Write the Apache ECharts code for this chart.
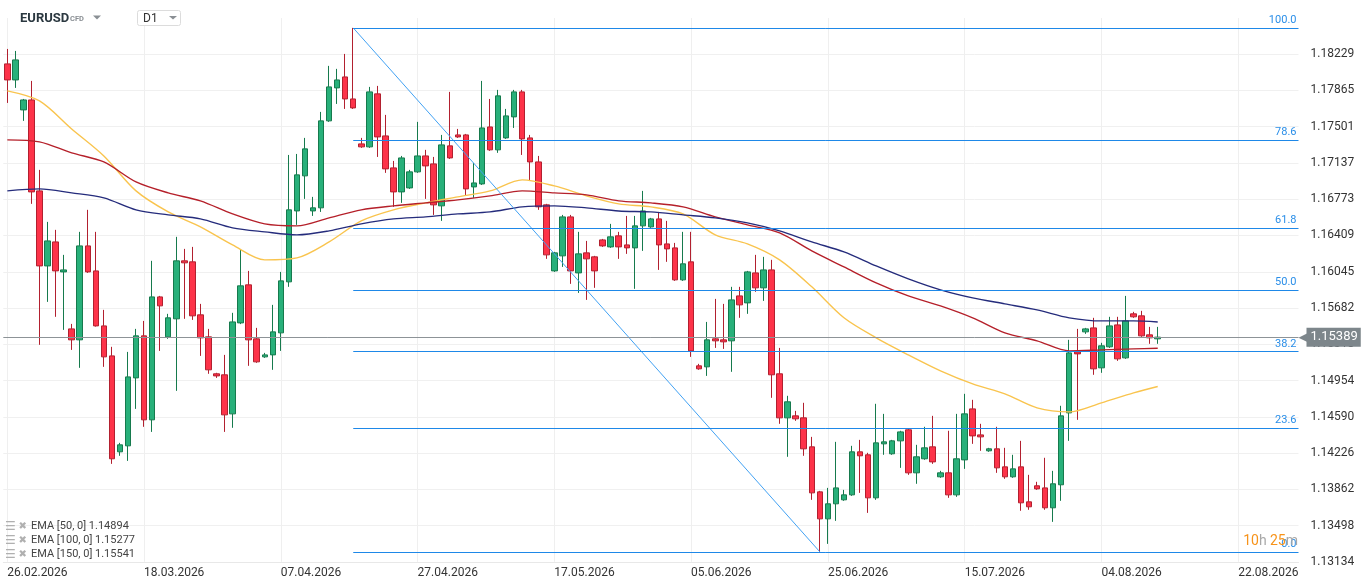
<!DOCTYPE html>
<html><head><meta charset="utf-8">
<script src="https://cdn.jsdelivr.net/npm/echarts@6/dist/echarts.min.js"></script>
<style>html,body{margin:0;padding:0;background:#fff;}#c{width:1368px;height:587px;}</style>
</head><body><div id="c"></div>
<script>
// ---- data ----
const openP = [
1.18132,1.17971,1.17670,1.17770,1.16857,1.16104,1.16345,1.16044,1.15472,1.15362,
1.16305,1.16054,1.15502,1.15201,1.14238,1.14298,1.14980,1.15402,1.14559,1.15793,
1.15392,1.15573,1.16155,1.16145,1.15613,1.15392,1.15021,1.15011,1.14619,1.15532,
1.15914,1.15372,1.15191,1.15211,1.15432,1.15944,1.16656,1.17008,1.16656,1.16687,
1.17560,1.17891,1.18001,1.17780,1.17329,1.17299,1.17831,1.17409,1.17088,1.16847,
1.16887,1.17048,1.17208,1.17128,1.16707,1.17309,1.17419,1.17419,1.16897,1.16927,
1.17499,1.17269,1.17389,1.17600,1.17851,1.17389,1.17148,1.16717,1.16054,1.16205,
1.16596,1.16034,1.16235,1.16195,1.16365,1.16295,1.16406,1.16315,1.16285,1.16506,
1.16496,1.16576,1.16325,1.16285,1.15964,1.16145,1.15101,1.15091,1.15372,1.15362,
1.15352,1.15803,1.15733,1.16034,1.15884,1.16064,1.15021,1.14579,1.14599,1.14579,
1.14288,1.13836,1.13565,1.13716,1.13756,1.13806,1.14238,1.14208,1.13776,1.14318,
1.14218,1.14348,1.14459,1.14027,1.14168,1.14288,1.13987,1.14027,1.13806,1.14157,
1.14669,1.14408,1.14248,1.14268,1.14087,1.13987,1.14087,1.13736,1.13897,1.13876,
1.13676,1.13907,1.14629,1.15241,1.15442,1.15482,1.15081,1.15292,1.15512,1.15181,
1.15623,1.15603,1.15412,1.15372];
const highP = [
1.18282,1.18262,1.17780,1.17961,1.17068,1.16546,1.16466,1.16215,1.15522,1.16446,
1.16667,1.16446,1.15663,1.15292,1.14328,1.15241,1.15472,1.15552,1.16155,1.15803,
1.15623,1.16396,1.16275,1.16295,1.15723,1.15472,1.15031,1.15211,1.15633,1.16265,
1.16054,1.15482,1.15231,1.15713,1.16044,1.17218,1.17228,1.17389,1.16797,1.17650,
1.18112,1.18082,1.18232,1.18493,1.17389,1.17901,1.17911,1.17620,1.17158,1.17208,
1.17068,1.17550,1.17269,1.17198,1.17419,1.17851,1.17479,1.17429,1.17138,1.17961,
1.17780,1.17871,1.17680,1.17871,1.17871,1.17419,1.17208,1.16727,1.16245,1.16616,
1.16616,1.16446,1.16355,1.16205,1.16375,1.16526,1.16446,1.16606,1.16606,1.16857,
1.16586,1.16646,1.16556,1.16335,1.16446,1.16446,1.15121,1.15542,1.15773,1.15723,
1.15894,1.15894,1.16054,1.16215,1.16195,1.16165,1.15281,1.14800,1.14649,1.14730,
1.14388,1.13846,1.13876,1.14338,1.13856,1.14298,1.14358,1.14228,1.14720,1.14619,
1.14358,1.14449,1.14469,1.14308,1.14489,1.14599,1.14047,1.14449,1.14619,1.14820,
1.14760,1.14519,1.14278,1.14489,1.14278,1.14208,1.14348,1.14007,1.13937,1.14178,
1.14047,1.14700,1.15362,1.15472,1.15482,1.15583,1.15332,1.15593,1.15593,1.15803,
1.15643,1.15653,1.15492,1.15492];
const lowP = [
1.17740,1.17891,1.17560,1.16727,1.15312,1.15743,1.15593,1.15462,1.15261,1.15081,
1.16034,1.15495,1.15091,1.14117,1.14198,1.14147,1.14669,1.14489,1.14438,1.15251,
1.15372,1.14850,1.15573,1.15562,1.15201,1.15021,1.14980,1.14438,1.14479,1.15520,
1.15101,1.15131,1.15181,1.15061,1.15251,1.15894,1.16516,1.16777,1.16606,1.16646,
1.17550,1.17730,1.17680,1.17680,1.17289,1.17289,1.17198,1.17038,1.16697,1.16737,
1.16877,1.17038,1.16777,1.16616,1.16556,1.17178,1.17389,1.16807,1.16787,1.16917,
1.17259,1.17239,1.17379,1.17489,1.17218,1.16957,1.16667,1.16175,1.16044,1.16094,
1.15924,1.15833,1.15763,1.15884,1.16295,1.16285,1.16175,1.16225,1.15874,1.16255,
1.16486,1.16064,1.16145,1.15954,1.15954,1.15191,1.15061,1.15000,1.15281,1.15271,
1.15041,1.15583,1.15623,1.15844,1.15753,1.14780,1.14519,1.14188,1.14549,1.14198,
1.13756,1.13234,1.13314,1.13545,1.13746,1.13796,1.13826,1.13625,1.13756,1.14208,
1.14208,1.14077,1.14007,1.13917,1.14158,1.14117,1.13977,1.13776,1.13786,1.14067,
1.14318,1.14248,1.14238,1.14027,1.13967,1.13977,1.13646,1.13656,1.13856,1.13656,
1.13535,1.13746,1.14348,1.14559,1.15422,1.15011,1.15031,1.15281,1.15151,1.15171,
1.15583,1.15392,1.15322,1.15322];
const closeP = [
1.17971,1.18172,1.17770,1.16847,1.16104,1.16355,1.16054,1.16064,1.15362,1.16305,
1.16044,1.15502,1.15191,1.14168,1.14308,1.14990,1.15402,1.14559,1.15793,1.15703,
1.15583,1.16155,1.16135,1.15603,1.15382,1.15061,1.15000,1.14609,1.15542,1.15904,
1.15362,1.15141,1.15211,1.15442,1.15954,1.16667,1.17018,1.17279,1.16687,1.17560,
1.17901,1.17971,1.17780,1.17690,1.17299,1.17851,1.17399,1.17078,1.16847,1.17188,
1.17048,1.17208,1.17108,1.16717,1.17319,1.17188,1.17399,1.16877,1.16937,1.17489,
1.17269,1.17811,1.17610,1.17851,1.17379,1.17148,1.16697,1.16215,1.16235,1.16596,
1.16054,1.16225,1.16175,1.16054,1.16305,1.16396,1.16295,1.16285,1.16506,1.16656,
1.16576,1.16315,1.16275,1.15964,1.16125,1.15251,1.15071,1.15362,1.15352,1.15342,
1.15763,1.15713,1.16044,1.15884,1.16064,1.15011,1.14579,1.14740,1.14569,1.14268,
1.13826,1.13565,1.13716,1.13876,1.13806,1.14238,1.14198,1.13776,1.14328,1.14338,
1.14348,1.14438,1.14027,1.14188,1.14278,1.14137,1.14027,1.13806,1.14168,1.14619,
1.14398,1.14388,1.14268,1.14077,1.13987,1.14067,1.13726,1.13686,1.13866,1.13676,
1.13917,1.14599,1.15231,1.15221,1.15472,1.15071,1.15302,1.15502,1.15171,1.15552,
1.15593,1.15402,1.15382,1.15389];

// EMA values read at these bar positions
const emaIdx = [0,4,8,12,16,20,24,28,32,36,40,44,48,52,56,60,64,68,72,76,80,84,88,92,96,100,104,108,112,116,120,124,128,132,136,140,143];
const ema50 = [1.17861,1.17760,1.17479,1.17208,1.16857,1.16646,1.16496,1.16315,1.16165,1.16185,1.16345,1.16556,1.16667,1.16737,1.16797,1.16857,1.16968,1.16907,1.16807,1.16727,1.16697,1.16626,1.16416,1.16325,1.16165,1.15894,1.15583,1.15382,1.15211,1.15051,1.14920,1.14820,1.14679,1.14639,1.14730,1.14830,1.14894];
const ema100 = [1.17369,1.17349,1.17239,1.17148,1.16947,1.16837,1.16757,1.16626,1.16526,1.16506,1.16586,1.16667,1.16707,1.16737,1.16767,1.16807,1.16857,1.16837,1.16817,1.16757,1.16737,1.16697,1.16596,1.16516,1.16436,1.16255,1.16094,1.15934,1.15803,1.15703,1.15583,1.15432,1.15352,1.15251,1.15261,1.15271,1.15277];
const ema150 = [1.16857,1.16877,1.16837,1.16787,1.16667,1.16616,1.16576,1.16486,1.16446,1.16416,1.16456,1.16526,1.16576,1.16596,1.16626,1.16646,1.16697,1.16707,1.16687,1.16656,1.16646,1.16616,1.16586,1.16536,1.16456,1.16345,1.16245,1.16104,1.15974,1.15864,1.15783,1.15723,1.15663,1.15583,1.15552,1.15552,1.15541];

const xTickIdx = [0,17,34,51,68,85,102,119,136,153];
const xTickLabels = ['26.02.2026','18.03.2026','07.04.2026','27.04.2026','17.05.2026','05.06.2026','25.06.2026','15.07.2026','04.08.2026','22.08.2026'];
const yTickLabels = ['1.13134','1.13498','1.13862','1.14226','1.14590','1.14954','1.15318','1.15682','1.16045','1.16409','1.16773','1.17137','1.17501','1.17865','1.18229'];
const fibRatios = [0, 23.6, 38.2, 50, 61.8, 78.6, 100];
const fibHighIdx = 43, fibLowIdx = 101;
const slotCount = 161;

// ---- chart ----
const yMin = parseFloat(yTickLabels[0]);
const yTop = parseFloat(yTickLabels[yTickLabels.length - 1]);
const yInterval = (yTop - yMin) / (yTickLabels.length - 1);
const yMax = yMin + (yTickLabels.length - 1 + 0.999) * yInterval;

const categories = [];
(function () {
  const d = new Date(Date.UTC(2026, 1, 26));
  const p = n => (n < 10 ? '0' : '') + n;
  while (categories.length < slotCount) {
    if (d.getUTCDay() !== 6) categories.push(p(d.getUTCDate()) + '.' + p(d.getUTCMonth() + 1) + '.' + d.getUTCFullYear());
    d.setUTCDate(d.getUTCDate() + 1);
  }
})();

const candles = openP.map((o, i) => [o, closeP[i], lowP[i], highP[i]]);
const last = closeP[closeP.length - 1];
const fibHigh = highP[fibHighIdx], fibLow = lowP[fibLowIdx];
const fibLines = fibRatios.map(r => {
  const v = fibLow + (fibHigh - fibLow) * r / 100;
  return [{ coord: [fibHighIdx, v], label: { formatter: r.toFixed(1) } }, { coord: [slotCount - 0.5, v] }];
});
const tickFn = i => xTickIdx.indexOf(i) >= 0;
const font = 'Roboto, "Noto Sans", sans-serif';

const chart = echarts.init(document.getElementById('c'), null, { renderer: 'canvas' });
chart.setOption({
  animation: false,
  backgroundColor: '#fff',
  textStyle: { fontFamily: font },
  grid: { left: 3.3, right: 69.5, top: 18, bottom: 25.2, containLabel: false },
  xAxis: [{
    type: 'category', data: categories, boundaryGap: true,
    axisLine: { show: true, lineStyle: { color: '#e8e8e8' } },
    axisTick: { show: false },
    axisLabel: { interval: tickFn, formatter: (v, i) => xTickLabels[xTickIdx.indexOf(i)] || '', align: 'left', color: '#333', fontSize: 12, margin: 5, fontFamily: font },
    splitLine: { show: true, interval: tickFn, alignWithLabel: true, lineStyle: { color: '#efefef', width: 1 } }
  }, {
    type: 'value', min: -0.5, max: slotCount - 0.5, show: false
  }],
  yAxis: {
    type: 'value', position: 'right', min: yMin, max: yMax, interval: yInterval, scale: true,
    axisLine: { show: false }, axisTick: { show: false },
    axisLabel: { showMaxLabel: false, color: '#333', fontSize: 12, margin: 12, fontFamily: font,
      formatter: v => yTickLabels[Math.round((v - yMin) / yInterval)] || '' },
    splitLine: { show: true, showMaxLine: false, lineStyle: { color: '#f0f0f0' } }
  },
  series: [{
    type: 'candlestick', name: 'EURUSD', data: candles, barWidth: 6,
    itemStyle: { color: '#28b07a', color0: '#fd3349', borderColor: '#167a4d', borderColor0: '#b2202f', borderWidth: 1 },
    markLine: {
      silent: true, symbol: ['none', 'none'], animation: false, precision: 5,
      lineStyle: { color: '#8d9397', width: 1, type: 'solid' },
      label: { show: true, position: 'end', distance: 0, formatter: '{a|◀}{b|' + last.toFixed(5) + '}',
        rich: { a: { color: '#7d868b', fontSize: 13, fontFamily: 'DejaVu Sans', padding: [0, -2, 0, 0] },
                b: { backgroundColor: '#7d868b', color: '#fff', fontSize: 13, padding: [3, 3, 3, 4], fontFamily: font } } },
      data: [{ yAxis: last }]
    }
  }, {
    type: 'line', name: 'EMA [50, 0]', data: emaIdx.map((x, i) => [x, ema50[i]]), showSymbol: false, smooth: 0.3, silent: true,
    lineStyle: { color: '#f9c44e', width: 1.4 }, z: 3
  }, {
    type: 'line', name: 'EMA [100, 0]', data: emaIdx.map((x, i) => [x, ema100[i]]), showSymbol: false, smooth: 0.3, silent: true,
    lineStyle: { color: '#b5202a', width: 1.4 }, z: 3
  }, {
    type: 'line', name: 'EMA [150, 0]', data: emaIdx.map((x, i) => [x, ema150[i]]), showSymbol: false, smooth: 0.3, silent: true,
    lineStyle: { color: '#252c7c', width: 1.4 }, z: 3
  }, {
    type: 'line', name: 'Fibo', xAxisIndex: 1, data: [[fibHighIdx, fibHigh], [fibLowIdx, fibLow]], showSymbol: false, silent: true,
    lineStyle: { color: '#42a2f4', width: 1 }, z: 4,
    markLine: {
      silent: true, symbol: ['none', 'none'], animation: false, precision: 5,
      lineStyle: { color: '#1e88e8', width: 1, type: 'solid' },
      label: { show: true, position: 'insideEndTop', distance: [2, 2], color: '#2a8ee8', fontSize: 11, fontFamily: font },
      data: fibLines
    }
  }],
  graphic: [
    { type: 'text', x: 20, y: 19, z: 10, style: { text: 'EURUSD', font: 'bold 13px ' + font, fill: '#2b3840', verticalAlign: 'middle' } },
    { type: 'text', x: 70, y: 19.5, z: 10, style: { text: 'CFD', font: 'bold 7.5px ' + font, fill: '#8a8f94', verticalAlign: 'middle' } },
    { type: 'polygon', z: 10, shape: { points: [[93, 15.5], [101, 15.5], [97, 19.5]] }, style: { fill: '#8a8f94' } },
    { type: 'rect', z: 10, shape: { x: 137.5, y: 10.5, width: 43, height: 15, r: 2 }, style: { fill: '#fff', stroke: '#dcdcdc', lineWidth: 1 } },
    { type: 'text', x: 143, y: 19, z: 11, style: { text: 'D1', font: '12px ' + font, fill: '#333', verticalAlign: 'middle' } },
    { type: 'polygon', z: 11, shape: { points: [[169, 16], [177, 16], [173, 19.5]] }, style: { fill: '#8a8f94' } },
    { type: 'text', x: 1298, y: 541, z: 10, style: { text: '{o|10}{g|h} {o|25}{g|m}', align: 'right', verticalAlign: 'middle',
      rich: { o: { fill: '#f7931a', fontSize: 14, fontFamily: font }, g: { fill: '#a8a8a8', fontSize: 14, fontFamily: font } } } },
    ...[['EMA [50, 0]', ema50], ['EMA [100, 0]', ema100], ['EMA [150, 0]', ema150]].flatMap((e, i) => {
      const y = 526.5 + i * 14;
      return [
        { type: 'text', x: 5, y: y, z: 10, style: { text: '☰', font: '12px "DejaVu Sans"', fill: '#b0b0b0', verticalAlign: 'middle' } },
        { type: 'text', x: 18.5, y: y, z: 10, style: { text: '✖', font: '10px "DejaVu Sans"', fill: '#b0b0b0', verticalAlign: 'middle' } },
        { type: 'text', x: 31, y: y, z: 10, style: { text: e[0] + ' ' + e[1][e[1].length - 1].toFixed(5), font: '11px ' + font, fill: '#444', verticalAlign: 'middle' } }
      ];
    })
  ]
});
</script></body></html>
